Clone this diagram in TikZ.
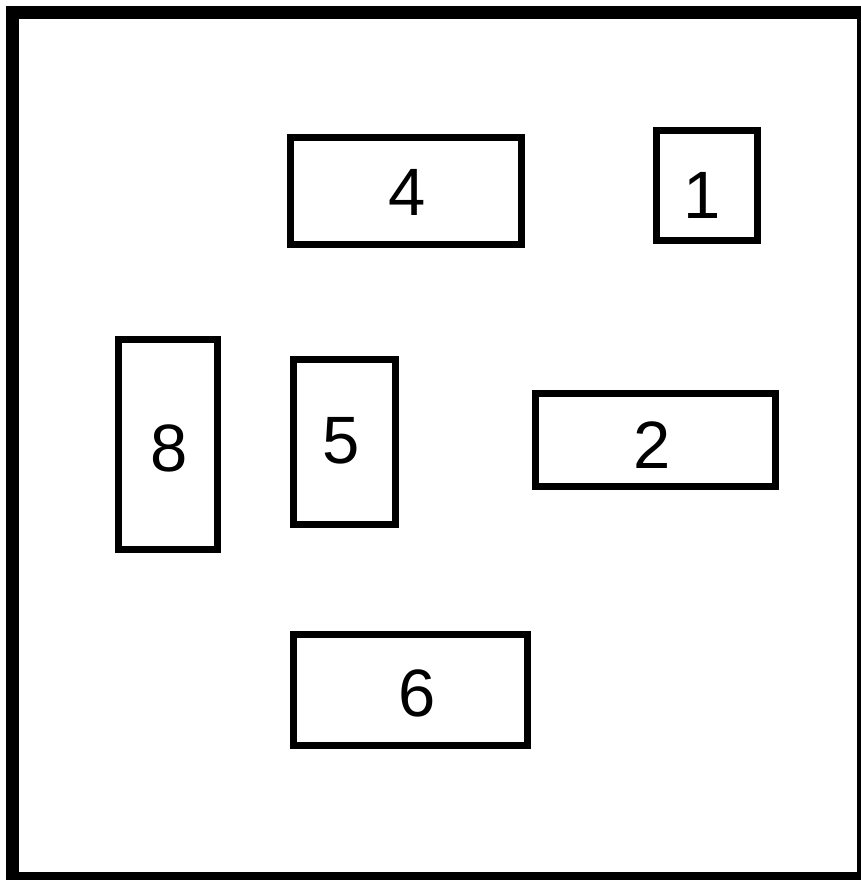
\documentclass[tikz,border=0pt]{standalone}
\usepackage{fontspec}
\setmainfont{Liberation Sans}
\begin{document}
\begin{tikzpicture}[x=1pt,y=-1pt,
  box/.style={draw=black,line width=7pt,inner sep=0pt,outer sep=0pt},
  num/.style={inner sep=0pt,text height=48pt,text depth=0pt,font=\fontsize{67}{67}\selectfont}]
\useasboundingbox (0,0) rectangle (861,880);
\clip (0,0) rectangle (861,880);
\fill[white] (0,0) rectangle (861,880);
% outer frame
\draw[line width=13pt] (12,13) rectangle (863.5,878.5);
% boxes
\node[box,minimum width=231pt,minimum height=107pt] (b4) at (405.5,191) {};
\node[box,minimum width=101.5pt,minimum height=110pt] (b1) at (706.75,185.5) {};
\node[box,minimum width=98.5pt,minimum height=209.5pt] (b8) at (167.75,444.25) {};
\node[box,minimum width=102pt,minimum height=164.5pt] (b5) at (344.5,441.75) {};
\node[box,minimum width=240pt,minimum height=93.5pt] (b2) at (655.5,439.75) {};
\node[box,minimum width=233.5pt,minimum height=111.5pt] (b6) at (410.25,689.75) {};
% labels
\node[num] (t4) at (407.5,191) {4};
\node[num] (t1) at (702,194) {1};
\node[num] (t8) at (169,447) {8};
\node[num] (t5) at (341,439) {5};
\node[num] (t2) at (652.5,444) {2};
\node[num] (t6) at (417,692) {6};
\end{tikzpicture}
\end{document}
